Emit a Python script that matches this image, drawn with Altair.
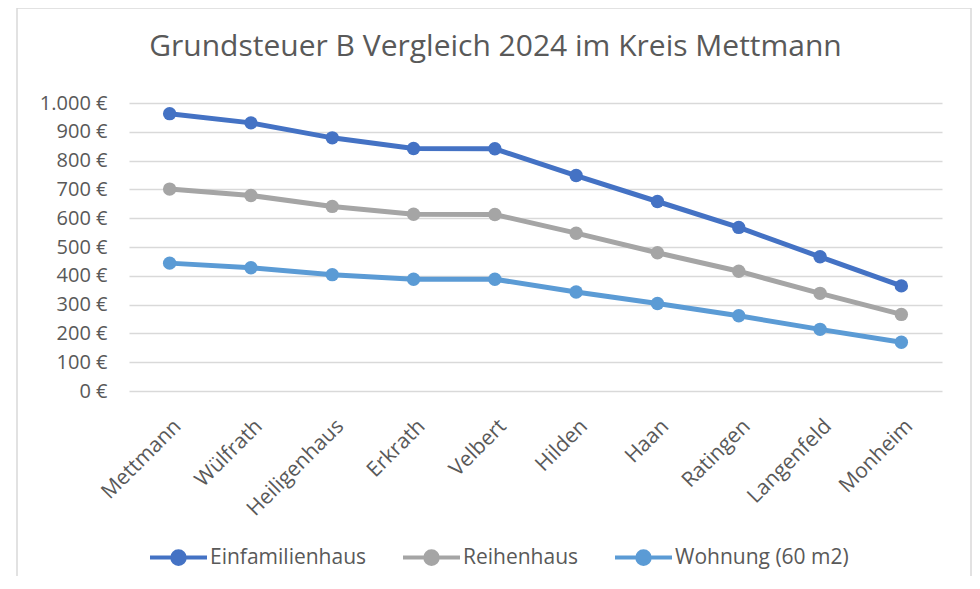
import altair as alt
import pandas as pd

cities = ["Mettmann", "Wülfrath", "Heiligenhaus", "Erkrath", "Velbert",
          "Hilden", "Haan", "Ratingen", "Langenfeld", "Monheim"]
series = ["Einfamilienhaus", "Reihenhaus", "Wohnung (60 m2)"]
einfamilienhaus = [963, 931, 879, 842, 841, 748, 658, 568, 466, 365]
reihenhaus = [701, 679, 641, 614, 613, 548, 480, 416, 339, 266]
wohnung = [444, 428, 404, 388, 388, 344, 304, 261, 214, 169]
colors = ["#4472C4", "#A5A5A5", "#5B9BD5"]
y_ticks = [0, 100, 200, 300, 400, 500, 600, 700, 800, 900, 1000]

rows = []
for name, vals in zip(series, [einfamilienhaus, reihenhaus, wohnung]):
    for i, (c, v) in enumerate(zip(cities, vals)):
        rows.append({"Stadt": c, "Serie": name, "Wert": v, "order": i})
df = pd.DataFrame(rows)

FONT = "Open Sans"
TXT = "#595959"

sym_path = "M-1,0H1M0.22,0A0.22,0.22,0,1,1,-0.22,0A0.22,0.22,0,1,1,0.22,0Z"

lines = alt.Chart(df).mark_line(
    strokeWidth=5,
    point=alt.OverlayMarkDef(filled=True, size=180, opacity=1),
).encode(
    x=alt.X("Stadt:N", sort=cities, scale=alt.Scale(type="point", padding=0.5),
            axis=alt.Axis(title=None, labelAngle=-45, labelFontSize=21, labelColor=TXT,
                          labelFont=FONT, domain=False, ticks=False, labelPadding=24)),
    y=alt.Y("Wert:Q", scale=alt.Scale(domain=[0, 1000], nice=False),
            axis=alt.Axis(title=None, values=y_ticks, labelFontSize=20, labelColor=TXT,
                          labelFont=FONT, domain=False, ticks=False, labelPadding=22,
                          gridColor="#D9D9D9", gridWidth=1.3,
                          labelExpr="replace(format(datum.value, ',d'), ',', '.') + ' €'")),
    color=alt.Color("Serie:N", sort=series,
                    scale=alt.Scale(domain=series, range=colors),
                    legend=alt.Legend(title=None, orient="none", legendX=19, legendY=424,
                                      direction="horizontal", labelFontSize=21,
                                      labelColor=TXT, labelFont=FONT, labelLimit=400,
                                      symbolType=sym_path, symbolSize=3249,
                                      symbolStrokeWidth=4, columnPadding=28,
                                      labelOffset=1)),
    order="order:Q",
)

border = alt.Chart(pd.DataFrame({"a": [0]})).mark_rect(
    fill="transparent", stroke="#D9D9D9", strokeWidth=1.5
).encode(x=alt.value(-112), x2=alt.value(842), y=alt.value(-95), y2=alt.value(500))

chart = alt.layer(border, lines).properties(
    width=813, height=288,
    autosize=alt.AutoSizeParams(type="none"),
    padding={"left": 121, "top": 95, "right": 30, "bottom": 185},
    title=alt.Title("Grundsteuer B Vergleich 2024 im Kreis Mettmann",
                    fontSize=30, font=FONT, color=TXT, fontWeight="normal",
                    anchor="middle", offset=20, baseline="alphabetic", dy=99, dx=-40),
).configure_view(strokeOpacity=0)

chart.save("out.html", embed_options={"renderer": "svg", "actions": False})
